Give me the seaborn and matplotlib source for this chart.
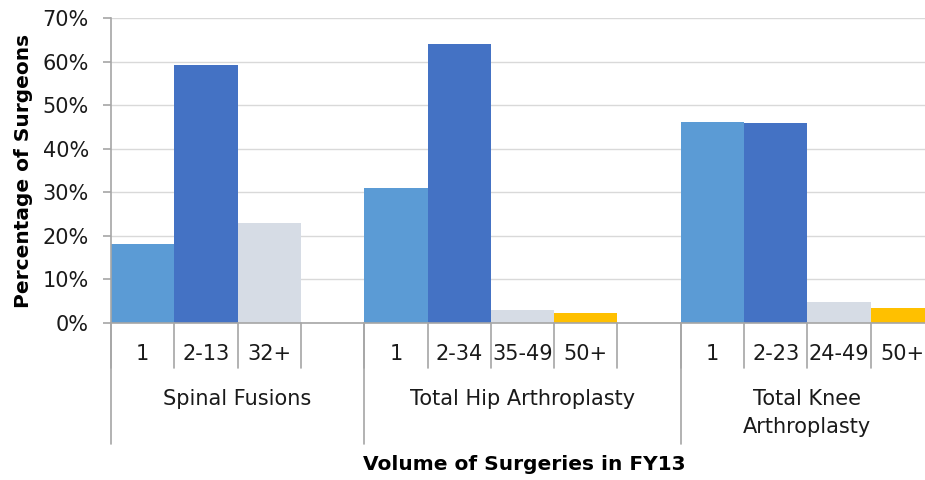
import pandas as pd
import matplotlib
matplotlib.use('Agg')
import matplotlib.pyplot as plt
import matplotlib.transforms as mtransforms
import seaborn as sns

sns.set_style('white')
plt.rcParams['font.family'] = ['DejaVu Sans']

groups = ['Spinal Fusions', 'Total Hip Arthroplasty', 'Total Knee\nArthroplasty']
spinal_bins = ['1', '2-13', '32+']
spinal_vals = [18.1, 59.2, 22.9]
hip_bins = ['1', '2-34', '35-49', '50+']
hip_vals = [31.0, 64.0, 3.0, 2.3]
knee_bins = ['1', '2-23', '24-49', '50+']
knee_vals = [46.1, 46.0, 4.8, 3.4]
bin_colors = ['#5B9BD5', '#4472C4', '#D6DCE5', '#FFC000']

# build slot table; an empty slot sits after the first two groups
rows = []
order = []
for g, bins, vals in zip(groups, [spinal_bins, hip_bins, knee_bins],
                         [spinal_vals, hip_vals, knee_vals]):
    for i, (b, v) in enumerate(zip(bins, vals)):
        slot = g + '|' + b
        rows.append({'slot': slot, 'pct': v, 'rank': str(i)})
        order.append(slot)
    if g != groups[-1]:
        order.append(g + '|gap')
df = pd.DataFrame(rows)

fig = plt.figure(figsize=(9.25, 4.8), dpi=100)
ax = fig.add_axes([111 / 925, 1 - 323 / 480, 823 / 925, 305 / 480])

sns.barplot(data=df, x='slot', y='pct', hue='rank', order=order,
            palette=bin_colors, width=1.0, dodge=False, legend=False, ax=ax,
            saturation=1, linewidth=0)

ax.set_xlim(-0.5, len(order) - 0.5)
ax.set_ylim(0, 70)
ax.set_yticks(range(0, 71, 10))
ax.set_yticklabels([f'{t}%' for t in range(0, 71, 10)], fontsize=15, color='#1a1a1a')
ax.yaxis.grid(True, color='#D9D9D9', linewidth=1)
ax.set_axisbelow(True)
for s in ['top', 'right']:
    ax.spines[s].set_visible(False)
for s in ['left', 'bottom']:
    ax.spines[s].set_color('#A6A6A6')
    ax.spines[s].set_linewidth(1.2)
ax.tick_params(axis='y', direction='out', length=6, width=1.2, color='#A6A6A6', pad=10,
               left=True)

# level one labels
centers = [i for i, s in enumerate(order) if not s.endswith('|gap')]
ax.set_xticks(centers)
ax.set_xticklabels([order[i].split('|')[1] for i in centers], fontsize=15, color='#1a1a1a')
ax.tick_params(axis='x', which='major', length=0, pad=15)

# slot boundary ticks
trans = mtransforms.blended_transform_factory(ax.transData, ax.transAxes)
for i in range(len(order) + 1):
    b = i - 0.5
    ax.plot([b, b], [0, -0.148], color='#A6A6A6', lw=1.2, transform=trans, clip_on=False)

# group separators and labels
gap_idx = [i for i, s in enumerate(order) if s.endswith('|gap')]
edges = [-0.5] + [g + 0.5 for g in gap_idx] + [len(order) - 0.5]
for e in edges:
    ax.plot([e, e], [0, -0.397], color='#A6A6A6', lw=1.2, transform=trans, clip_on=False)
for g, a, b in zip(groups, edges[:-1], edges[1:]):
    ax.text((a + b) / 2, -0.215, g, transform=trans, ha='center', va='top',
            fontsize=15, color='#1a1a1a', linespacing=1.55)

ax.set_xlabel('')
ax.set_ylabel('Percentage of Surgeons', fontsize=14.5, fontweight='bold', labelpad=7,
              color='black')
fig.text(524 / 925, 1 - 465 / 480, 'Volume of Surgeries in FY13', ha='center', va='center',
         fontsize=14.5, fontweight='bold', color='black')

fig.savefig('out.png', dpi=100)
